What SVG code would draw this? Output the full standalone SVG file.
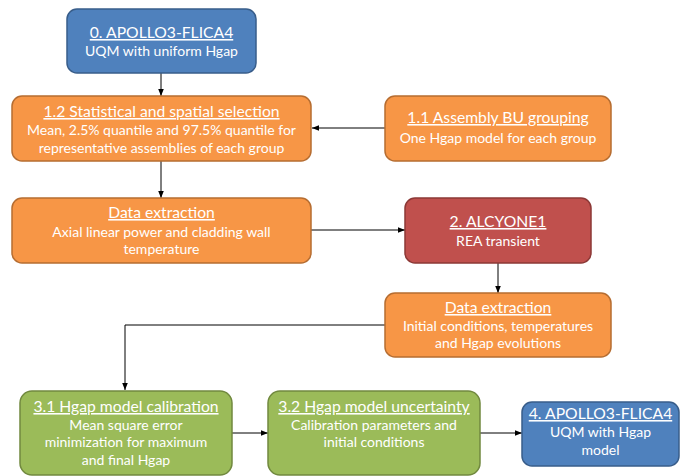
<svg xmlns="http://www.w3.org/2000/svg" width="681" height="476" viewBox="0 0 681 476">
<style>
.t{font-family:Lato,"Liberation Sans",sans-serif;font-size:15.7px;fill:#fff;text-anchor:middle;text-decoration:underline}
.b{font-family:Lato,"Liberation Sans",sans-serif;font-size:14px;fill:#fff;text-anchor:middle}
.blue{fill:#4F81BD;stroke:#385D8A;stroke-width:1.5}
.org{fill:#F79646;stroke:#B66D31;stroke-width:1.5}
.red{fill:#C0504D;stroke:#8C3836;stroke-width:1.5}
.grn{fill:#9BBB59;stroke:#71893F;stroke-width:1.5}
.c{fill:none;stroke:#000;stroke-width:1}
</style>
<defs>
<marker id="a" viewBox="0 0 10 10" refX="10" refY="5" markerWidth="7" markerHeight="7" orient="auto" markerUnits="userSpaceOnUse"><path d="M0,1 L10,5 L0,9 Z" fill="#000"/></marker>
</defs>
<rect width="681" height="476" fill="#fff"/>
<g id="connectors">
<path class="c" d="M161,73 V96" marker-end="url(#a)"/>
<path class="c" d="M385,128 H312" marker-end="url(#a)"/>
<path class="c" d="M161,161 V198" marker-end="url(#a)"/>
<path class="c" d="M311,230 H405" marker-end="url(#a)"/>
<path class="c" d="M498,263 V293" marker-end="url(#a)"/>
<path class="c" d="M385,325 H125 V390" marker-end="url(#a)"/>
<path class="c" d="M232,433 H268" marker-end="url(#a)"/>
<path class="c" d="M480,433 H522" marker-end="url(#a)"/>
</g>
<g id="n0"><rect class="blue" x="67" y="9" width="189" height="64" rx="10"/>
<text class="t" x="161.5" y="38">0. APOLLO3-FLICA4</text>
<text class="b" x="161.5" y="56">UQM with uniform Hgap</text></g>
<g id="n12"><rect class="org" x="12" y="96" width="299" height="65" rx="10"/>
<text class="t" x="161.5" y="117">1.2 Statistical and spatial selection</text>
<text class="b" x="161.5" y="135">Mean, 2.5% quantile and 97.5% quantile for</text>
<text class="b" x="161.5" y="153">representative assemblies of each group</text></g>
<g id="n11"><rect class="org" x="385" y="96" width="226" height="65" rx="10"/>
<text class="t" x="498" y="123">1.1 Assembly BU grouping</text>
<text class="b" x="498" y="143">One Hgap model for each group</text></g>
<g id="nde1"><rect class="org" x="12" y="198" width="299" height="65" rx="10"/>
<text class="t" x="161.5" y="218">Data extraction</text>
<text class="b" x="161.5" y="237">Axial linear power and cladding wall</text>
<text class="b" x="161.5" y="254">temperature</text></g>
<g id="n2"><rect class="red" x="405" y="198" width="186" height="65" rx="10"/>
<text class="t" x="498" y="227">2. ALCYONE1</text>
<text class="b" x="498" y="246">REA transient</text></g>
<g id="nde2"><rect class="org" x="385" y="293" width="226" height="64" rx="10"/>
<text class="t" x="498" y="313">Data extraction</text>
<text class="b" x="498" y="331">Initial conditions, temperatures</text>
<text class="b" x="498" y="348">and Hgap evolutions</text></g>
<g id="n31"><rect class="grn" x="20" y="391" width="212" height="84" rx="12"/>
<text class="t" x="126" y="412">3.1 Hgap model calibration</text>
<text class="b" x="126" y="430">Mean square error</text>
<text class="b" x="126" y="447">minimization for maximum</text>
<text class="b" x="126" y="465">and final Hgap</text></g>
<g id="n32"><rect class="grn" x="268" y="391" width="212" height="84" rx="12"/>
<text class="t" x="374" y="412">3.2 Hgap model uncertainty</text>
<text class="b" x="374" y="430">Calibration parameters and</text>
<text class="b" x="374" y="447">initial conditions</text></g>
<g id="n4"><rect class="blue" x="522" y="402" width="157" height="64" rx="10"/>
<text class="t" x="600.5" y="419">4. APOLLO3-FLICA4</text>
<text class="b" x="600.5" y="437">UQM with Hgap</text>
<text class="b" x="600.5" y="455">model</text></g>
</svg>
